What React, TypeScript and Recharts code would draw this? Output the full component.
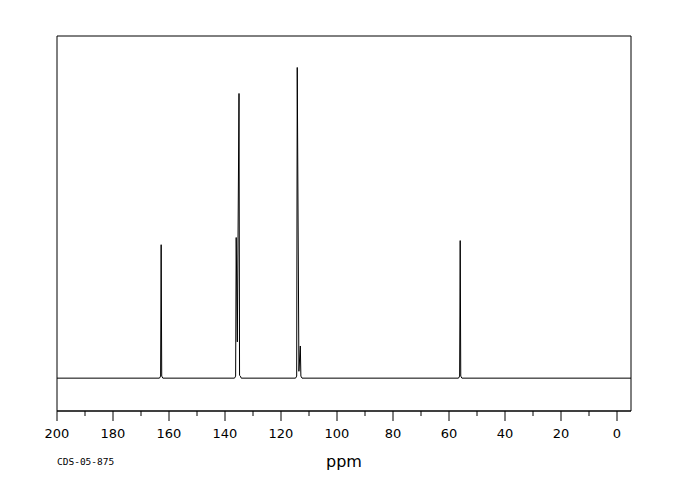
import React from 'react'
import { LineChart, Line, XAxis, YAxis, ReferenceArea, Label } from 'recharts'

// chemical shift (ppm) and relative intensity
const shifts = [
  200, 163.4, 163.0, 162.8, 162.6, 162.2,
  136.6, 136.2, 136.0, 135.6, 135.0, 134.8, 134.5, 134.2,
  114.8, 114.4, 114.2, 113.6, 113.1, 112.9, 112.5,
  56.6, 56.2, 56.0, 55.8, 55.4, -5,
]
const intensities = [
  0, 0, 0.6, 39.0, 0.6, 0,
  0, 0.6, 41.1, 10.6, 83.2, 0.8, 0.6, 0,
  0, 0.6, 90.8, 2.0, 9.4, 0.6, 0,
  0, 0.6, 40.2, 0.6, 0, 0,
]
const xTicks = [0, 10, 20, 30, 40, 50, 60, 70, 80, 90, 100, 110, 120, 130, 140, 150, 160, 170, 180, 190, 200]

const data = shifts.map((ppm, i) => ({ ppm, value: intensities[i] }))

const FONT = '"DejaVu Sans", sans-serif'
const Y_MIN = -9.6
const Y_MAX = 100

function PpmTick({ x, y, payload }: any) {
  const major = payload.value % 20 === 0
  return (
    <g>
      <line x1={x} x2={x} y1={y} y2={y + (major ? 10 : 5)} stroke="#000" strokeWidth={1} />
      {major && (
        <text x={x} y={y + 27} textAnchor="middle" fontFamily={FONT} fontSize={13} fill="#000">
          {payload.value}
        </text>
      )}
    </g>
  )
}

function AxisCaption({ viewBox }: any) {
  const { x, y, width } = viewBox
  return (
    <g>
      <text x={x + width / 2} y={y + 56} textAnchor="middle" fontFamily={FONT} fontSize={16} fill="#000">
        ppm
      </text>
      <text x={x} y={y + 54} textAnchor="start" fontFamily='"DejaVu Sans Mono", monospace' fontSize={9.5} fill="#000">
        CDS-05-875
      </text>
    </g>
  )
}

export default function App() {
  return (
    <div style={{ position: 'absolute', left: 0, top: 0, width: 680, height: 500, background: '#fff' }}>
      <LineChart width={680} height={500} data={data} margin={{ top: 36, right: 49, bottom: 59, left: 57 }}>
        <XAxis
          type="number"
          dataKey="ppm"
          domain={[-5, 200]}
          reversed
          ticks={xTicks}
          interval={0}
          allowDataOverflow
          tickLine={false}
          tickSize={0}
          tickMargin={0}
          axisLine={{ stroke: '#000' }}
          tick={<PpmTick />}
          height={30}
        >
          <Label content={<AxisCaption />} />
        </XAxis>
        <YAxis hide type="number" domain={[Y_MIN, Y_MAX]} allowDataOverflow />
        <ReferenceArea x1={-5} x2={200} y1={Y_MIN} y2={Y_MAX} fill="none" stroke="#000" strokeWidth={1} />
        <Line
          type="linear"
          dataKey="value"
          stroke="#000"
          strokeWidth={1}
          dot={false}
          isAnimationActive={false}
        />
      </LineChart>
    </div>
  )
}
